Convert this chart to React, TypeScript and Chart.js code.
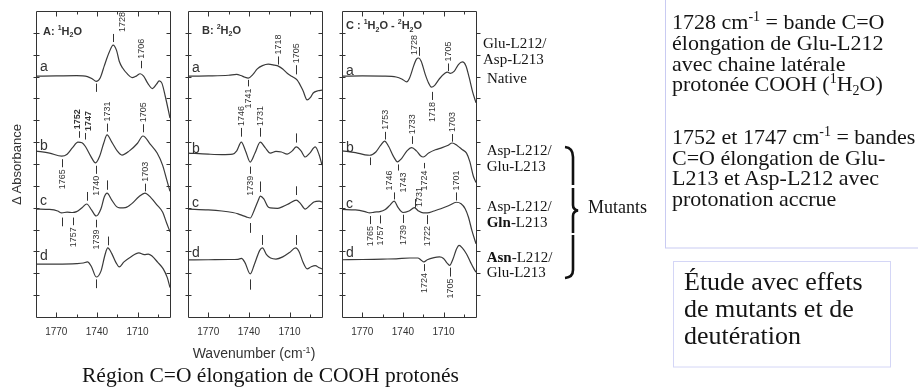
import React, { useEffect, useRef } from 'react';
import { Chart, registerables } from 'chart.js';

Chart.register(...registerables);

type Pt = [number, number];
// [wavenumber, tickStart, tickEnd, label, direction, bold, labelDx, labelShift]
type Mark = [number, number, number, string, 'up' | 'down', boolean?, number?, number?];
type Seg = { t: string; s?: 'sup' | 'sub' };

// ---------- axes ----------
const X_MIN = 1686;
const X_MAX = 1785;
const X_LABELS = [1770, 1740, 1710];
const X_MINOR = [1755, 1725, 1695];
const Y_MIN = 0;
const Y_MAX = 14;
const Y_TICKS = [1, 2, 3, 4, 5, 6, 7, 8, 9, 10, 11, 12, 13];
const TRACE_LETTERS = ['a', 'b', 'c', 'd'];

// ---------- Panel A : 1H2O ----------
const A_a: Pt[] = [[1785, 11.02], [1770, 11.03], [1755, 11.04], [1747, 11.0], [1743.5, 10.9], [1740.5, 10.78], [1737.5, 10.95], [1734.5, 11.5], [1731, 12.1], [1728, 12.44], [1725.5, 12.2], [1723.5, 11.7], [1721, 11.39], [1717.5, 11.12], [1714, 10.95], [1711, 11.02], [1708, 11.13], [1705.5, 11.02], [1702.5, 10.7], [1699, 10.45], [1696, 10.65], [1694, 10.8], [1692, 10.7], [1689.5, 10.1], [1686, 9.1]];
const A_b: Pt[] = [[1785, 7.59], [1775, 7.5], [1766, 7.36], [1762, 7.45], [1758, 7.75], [1754, 8.0], [1751, 7.97], [1748.5, 7.8], [1744.5, 7.35], [1741, 7.05], [1738, 7.35], [1735, 7.95], [1732.5, 8.33], [1729, 8.0], [1725, 7.6], [1721.5, 7.41], [1716, 7.6], [1710, 7.95], [1706, 8.28], [1700.5, 7.9], [1695.5, 7.5], [1691.5, 6.95], [1688.5, 6.3], [1686, 5.75]];
const A_c: Pt[] = [[1785, 4.94], [1775, 4.92], [1769, 4.85], [1766, 4.76], [1762, 4.8], [1758, 4.78], [1755, 4.82], [1751, 5.0], [1747.5, 5.17], [1744, 4.9], [1740.5, 4.62], [1737, 4.95], [1734.5, 5.5], [1732.5, 5.67], [1729, 5.35], [1725.5, 5.05], [1723, 4.99], [1719, 5.0], [1714, 5.2], [1709, 5.5], [1704.5, 5.67], [1700, 5.45], [1695.5, 5.12], [1691.5, 4.8], [1688.5, 4.3], [1686, 3.9]];
const A_d: Pt[] = [[1785, 2.42], [1770, 2.42], [1755, 2.44], [1750, 2.47], [1747, 2.52], [1744, 2.3], [1740.5, 1.83], [1737, 2.1], [1734, 2.85], [1732, 3.16], [1729, 2.9], [1726, 2.5], [1723.5, 2.29], [1720, 2.52], [1715, 2.75], [1709, 2.93], [1705, 2.85], [1702, 2.88], [1699.5, 2.8], [1695, 2.5], [1691, 2.2], [1688, 1.8], [1686, 1.35]];
const A_MARKS: Mark[] = [
  [1740.5, 10.68, 10.3, '', 'down'],
  [1728, 12.58, 12.95, '1728', 'up', false, 9],
  [1707.5, 11.38, 11.72, '1706', 'up'],
  [1766, 7.22, 6.85, '1765', 'down'],
  [1753, 8.2, 8.5, '1752', 'up', true, -1.5],
  [1748.5, 8.12, 8.42, '1747', 'up', true, 3],
  [1741, 6.92, 6.55, '1740', 'down'],
  [1732.5, 8.48, 8.85, '1731', 'up'],
  [1706, 8.45, 8.82, '1705', 'up'],
  [1766, 4.55, 4.15, '', 'down'],
  [1757.5, 4.55, 4.2, '1757', 'down'],
  [1747.5, 5.32, 5.72, '', 'up'],
  [1740.5, 4.45, 4.1, '1739', 'down'],
  [1732.5, 5.82, 6.25, '', 'up'],
  [1704.5, 5.75, 6.1, '1703', 'up'],
  [1740.5, 1.72, 1.32, '', 'down'],
  [1732, 3.28, 3.68, '', 'up'],
];
const A_LETTER_Y = [11.25, 7.64, 5.12, 2.61];

// ---------- Panel B : 2H2O ----------
const B_a: Pt[] = [[1785, 11.02], [1770, 11.03], [1755, 11.06], [1749, 11.1], [1746, 11.05], [1743, 10.97], [1740.5, 10.93], [1737, 11.1], [1733.8, 11.35], [1730, 11.5], [1725.7, 11.57], [1721, 11.52], [1718.3, 11.48], [1715, 11.35], [1711.7, 11.15], [1708, 11.0], [1704.3, 10.84], [1700, 10.35], [1697, 9.93], [1694.5, 10.05], [1692.5, 10.25], [1689, 10.35], [1686, 10.38]];
const B_b: Pt[] = [[1785, 7.5], [1770, 7.45], [1760, 7.43], [1752, 7.45], [1749, 7.6], [1745.6, 8.0], [1742.5, 7.6], [1739, 7.09], [1735.5, 7.5], [1731.6, 8.0], [1728, 7.75], [1724.2, 7.5], [1720, 7.58], [1716, 7.55], [1711.7, 7.45], [1708, 7.6], [1705, 7.78], [1701.5, 7.6], [1698.4, 7.32], [1695, 7.5], [1691, 7.78], [1688, 7.4], [1686, 6.95]];
const B_c: Pt[] = [[1785, 4.94], [1770, 4.9], [1760, 4.85], [1752, 4.78], [1748, 4.72], [1745, 4.65], [1742, 4.58], [1739, 4.53], [1736, 4.9], [1733, 5.35], [1731.6, 5.53], [1729, 5.4], [1726, 5.05], [1724.2, 4.99], [1719, 4.97], [1715, 5.05], [1710, 5.2], [1705, 5.35], [1702, 5.2], [1698.4, 4.94], [1695, 5.1], [1692, 5.26], [1688, 5.3], [1686, 5.26]];
const B_d: Pt[] = [[1785, 2.61], [1770, 2.62], [1755, 2.63], [1748, 2.64], [1745.5, 2.68], [1743, 2.5], [1739, 1.97], [1736, 2.4], [1732, 3.05], [1730, 3.16], [1727, 2.85], [1724, 2.7], [1720, 2.65], [1715, 2.75], [1710, 2.95], [1705.5, 3.16], [1703, 3.0], [1700, 2.5], [1697, 2.2], [1694, 2.3], [1691, 2.35], [1688, 2.25], [1686, 2.2]];
const B_MARKS: Mark[] = [
  [1740.5, 10.85, 10.55, '1741', 'down'],
  [1718.5, 11.55, 11.92, '1718', 'up'],
  [1705, 11.1, 11.52, '1705', 'up'],
  [1745.9, 8.25, 8.65, '1746', 'up'],
  [1739.2, 6.88, 6.55, '1739', 'down'],
  [1731.8, 8.25, 8.65, '1731', 'up'],
  [1705.2, 7.98, 8.4, '', 'up'],
  [1731.8, 5.72, 6.2, '', 'up'],
  [1705.2, 5.58, 5.98, '', 'up'],
  [1739.2, 4.3, 3.85, '', 'down'],
  [1739.2, 1.72, 1.25, '', 'down'],
  [1730.5, 3.3, 3.75, '', 'up'],
  [1705.5, 3.3, 3.75, '', 'up'],
];
const B_LETTER_Y = [11.21, 7.5, 5.03, 2.75];

// ---------- Panel C : 1H2O - 2H2O ----------
const C_a: Pt[] = [[1785, 11.02], [1770, 11.03], [1755, 11.02], [1745, 10.98], [1740.5, 10.88], [1737.2, 10.76], [1735, 10.95], [1732, 11.5], [1730, 11.8], [1728.3, 11.85], [1726.5, 11.7], [1723.5, 11.1], [1721, 10.7], [1719, 10.52], [1716.5, 10.6], [1713, 10.9], [1709, 11.15], [1707, 11.2], [1705, 11.15], [1702, 11.25], [1699, 11.55], [1696, 11.67], [1693.5, 11.5], [1691, 10.95], [1688.5, 10.3], [1686, 9.8]];
const C_b: Pt[] = [[1785, 7.6], [1775, 7.52], [1768, 7.42], [1764.5, 7.4], [1760, 7.55], [1756.5, 7.85], [1753.5, 8.05], [1750.5, 7.8], [1747, 7.35], [1744, 7.1], [1741, 7.25], [1737, 7.6], [1733.5, 7.75], [1730, 7.6], [1727, 7.38], [1725, 7.32], [1721, 7.5], [1716, 7.65], [1711, 7.75], [1707, 7.85], [1703.5, 7.96], [1700, 7.85], [1696, 7.65], [1693, 7.5], [1690.5, 7.1], [1688, 6.45], [1686, 6.15]];
const C_c: Pt[] = [[1785, 4.92], [1775, 4.9], [1768, 4.82], [1764.5, 4.76], [1761, 4.8], [1757, 4.82], [1753, 4.92], [1749.5, 5.12], [1746.5, 5.3], [1743.5, 5.0], [1740, 4.78], [1735.5, 4.85], [1731.5, 5.0], [1728.5, 4.85], [1725, 4.76], [1722, 4.76], [1717, 4.85], [1712, 4.95], [1706, 5.1], [1700.5, 5.25], [1697, 5.18], [1694, 4.95], [1691.5, 4.55], [1689, 3.95], [1686, 3.35]];
const C_d: Pt[] = [[1785, 2.62], [1770, 2.63], [1755, 2.65], [1745, 2.66], [1735, 2.7], [1729, 2.7], [1726.5, 2.6], [1724.5, 2.52], [1722, 2.62], [1717, 2.72], [1713, 2.75], [1710, 2.68], [1707.5, 2.48], [1705.5, 2.36], [1703, 2.65], [1700.5, 3.1], [1698.5, 3.28], [1696, 3.15], [1693, 2.88], [1690, 2.5], [1687.5, 2.2], [1686, 2.05]];
const C_MARKS: Mark[] = [
  [1728.3, 11.95, 12.35, '1728', 'up', false, -5, 10],
  [1718.5, 10.3, 9.93, '1718', 'down'],
  [1706.7, 11.25, 11.6, '1705', 'up'],
  [1764.3, 7.3, 6.95, '', 'down'],
  [1753.2, 8.12, 8.47, '1753', 'up'],
  [1743.6, 6.98, 6.7, '1743', 'down', false, 5],
  [1733.3, 7.92, 8.27, '1733', 'up'],
  [1724.5, 7.05, 6.8, '1724', 'down'],
  [1703.5, 8.02, 8.37, '1703', 'up'],
  [1764.3, 4.62, 4.25, '1765', 'down'],
  [1756.9, 4.65, 4.28, '1757', 'down'],
  [1746.5, 5.38, 5.7, '1746', 'up', false, -5],
  [1740, 4.68, 4.3, '1739', 'down'],
  [1731.1, 5.0, 5.4, '1731', 'up', false, 4, 10],
  [1722.2, 4.66, 4.25, '1722', 'down'],
  [1700.5, 5.33, 5.7, '1701', 'up'],
  [1724.5, 2.42, 2.1, '1724', 'down'],
  [1705.5, 2.26, 1.85, '1705', 'down'],
];
const C_LETTER_Y = [11.07, 7.55, 4.99, 2.75];

const A_TITLE: Seg[] = [{ t: 'A: ' }, { t: '1', s: 'sup' }, { t: 'H' }, { t: '2', s: 'sub' }, { t: 'O' }];
const B_TITLE: Seg[] = [{ t: 'B: ' }, { t: '2', s: 'sup' }, { t: 'H' }, { t: '2', s: 'sub' }, { t: 'O' }];
const C_TITLE: Seg[] = [{ t: 'C : ' }, { t: '1', s: 'sup' }, { t: 'H' }, { t: '2', s: 'sub' }, { t: 'O - ' }, { t: '2', s: 'sup' }, { t: 'H' }, { t: '2', s: 'sub' }, { t: 'O' }];

// ---------- style ----------
const SANS = '"Liberation Sans", Arial, Helvetica, sans-serif';
const SERIF = '"Liberation Serif", "Times New Roman", Times, serif';
const INK = '#333333';
const LINE = '#3a3a3a';
const PAD = 14;
const PLOT_W = 134;
const CANVAS_W = PLOT_W + 2 * PAD;
const CANVAS_H = 350;
const PLOT_TOP = 11;
const PLOT_BOTTOM = 317;
const X_AXIS_H = 30;

interface PanelDef {
  left: number;
  curves: Pt[][];
  marks: Mark[];
  letterY: number[];
  title: Seg[];
  titleDx: number;
  titleBase: number;
  rightOut: boolean;
}

function drawRich(ctx: CanvasRenderingContext2D, segs: Seg[], x0: number, y0: number, size: number) {
  let cx = x0;
  ctx.textAlign = 'left';
  ctx.textBaseline = 'alphabetic';
  for (const g of segs) {
    const fs = g.s ? Math.round(size * 0.62) : size;
    ctx.font = `bold ${fs}px ${SANS}`;
    const dy = g.s === 'sup' ? -size * 0.42 : g.s === 'sub' ? size * 0.25 : 0;
    ctx.fillText(g.t, cx, y0 + dy);
    cx += ctx.measureText(g.t).width;
  }
}

function makeDecor(def: PanelDef) {
  return {
    id: 'decor',
    afterDatasetsDraw(chart: any) {
      const { ctx, chartArea: ca, scales } = chart;
      const xs = scales.x;
      const ys = scales.y;
      const L = Math.round(ca.left) + 0.5;
      const R = Math.round(ca.right) + 0.5;
      const T = Math.round(ca.top) + 0.5;
      const B = Math.round(ca.bottom) + 0.5;
      ctx.save();
      ctx.strokeStyle = INK;
      ctx.fillStyle = INK;
      ctx.lineWidth = 1;
      ctx.beginPath();
      ctx.rect(L, T, R - L, B - T);
      ctx.stroke();
      const xt = (v: number, len: number) => {
        const px = Math.round(xs.getPixelForValue(v)) + 0.5;
        ctx.beginPath();
        ctx.moveTo(px, B); ctx.lineTo(px, B - len);
        ctx.moveTo(px, T); ctx.lineTo(px, T + len);
        ctx.stroke();
      };
      X_LABELS.forEach((v) => xt(v, 5));
      X_MINOR.forEach((v) => xt(v, 3));
      Y_TICKS.forEach((v) => {
        const py = Math.round(ys.getPixelForValue(v)) + 0.5;
        ctx.beginPath();
        ctx.moveTo(L - 3, py); ctx.lineTo(L + 3, py);
        if (def.rightOut) { ctx.moveTo(R, py); ctx.lineTo(R + 4, py); }
        else { ctx.moveTo(R - 4, py); ctx.lineTo(R, py); }
        ctx.stroke();
      });
      ctx.font = `14px ${SANS}`;
      ctx.textAlign = 'left';
      ctx.textBaseline = 'alphabetic';
      TRACE_LETTERS.forEach((t, i) => {
        ctx.fillText(t, ca.left + 4, ys.getPixelForValue(def.letterY[i]));
      });
      for (const m of def.marks) {
        const [wn, y1, y2, text, dir, bold, dx, shift] = m;
        const px = Math.round(xs.getPixelForValue(wn)) + 0.5;
        const p1 = ys.getPixelForValue(y1);
        const p2 = ys.getPixelForValue(y2);
        ctx.beginPath();
        ctx.moveTo(px, p1); ctx.lineTo(px, p2);
        ctx.stroke();
        if (text) {
          ctx.save();
          ctx.font = `${bold ? 'bold ' : ''}9px ${SANS}`;
          const end = (dir === 'up' ? Math.min(p1, p2) - 2 : Math.max(p1, p2) + 2) + (shift || 0);
          ctx.translate(px + (dx || 0), end);
          ctx.rotate(-Math.PI / 2);
          ctx.textAlign = dir === 'up' ? 'left' : 'right';
          ctx.textBaseline = 'middle';
          ctx.fillText(text, 0, 0);
          ctx.restore();
        }
      }
      drawRich(ctx, def.title, ca.left + def.titleDx, def.titleBase, 11);
      ctx.restore();
    },
  };
}

function Panel({ def }: { def: PanelDef }) {
  const ref = useRef<HTMLCanvasElement | null>(null);
  useEffect(() => {
    if (!ref.current) return;
    const chart = new Chart(ref.current, {
      type: 'line',
      data: {
        datasets: def.curves.map((c) => ({
          data: c.map(([wn, a]) => ({ x: wn, y: a })),
          borderColor: LINE,
          borderWidth: 1.2,
          pointRadius: 0,
          cubicInterpolationMode: 'monotone' as const,
          fill: false,
        })),
      },
      options: {
        animation: false,
        responsive: false,
        maintainAspectRatio: false,
        events: [],
        layout: { padding: { left: PAD, right: PAD, top: PLOT_TOP, bottom: CANVAS_H - PLOT_BOTTOM - X_AXIS_H } },
        plugins: { legend: { display: false }, tooltip: { enabled: false } },
        scales: {
          x: {
            type: 'linear',
            reverse: true,
            min: X_MIN,
            max: X_MAX,
            grid: { display: false, drawTicks: false },
            border: { display: false },
            ticks: {
              includeBounds: false,
              autoSkip: false,
              maxRotation: 0,
              padding: 9,
              color: INK,
              font: { family: SANS, size: 10 },
              callback: (v: any) => String(v),
            },
            afterBuildTicks: (s: any) => { s.ticks = X_LABELS.map((v) => ({ value: v })); },
            afterFit: (s: any) => { s.height = X_AXIS_H; },
          },
          y: { type: 'linear', display: false, min: Y_MIN, max: Y_MAX },
        },
      } as any,
      plugins: [makeDecor(def)],
    });
    return () => chart.destroy();
  }, [def]);
  return (
    <canvas
      ref={ref}
      width={CANVAS_W}
      height={CANVAS_H}
      style={{ position: 'absolute', left: def.left - PAD, top: 0, width: CANVAS_W, height: CANVAS_H }}
    />
  );
}

const PANELS: PanelDef[] = [
  { left: 36, curves: [A_a, A_b, A_c, A_d], marks: A_MARKS, letterY: A_LETTER_Y, title: A_TITLE, titleDx: 7, titleBase: 34.5, rightOut: false },
  { left: 188, curves: [B_a, B_b, B_c, B_d], marks: B_MARKS, letterY: B_LETTER_Y, title: B_TITLE, titleDx: 14, titleBase: 33.5, rightOut: false },
  { left: 342, curves: [C_a, C_b, C_c, C_d], marks: C_MARKS, letterY: C_LETTER_Y, title: C_TITLE, titleDx: 4, titleBase: 29, rightOut: true },
];

const TXT = '#141414';

export default function App() {
  return (
    <div style={{ position: 'absolute', left: 0, top: 0, width: 918, height: 389, background: '#fff', overflow: 'hidden' }}>
      {PANELS.map((p, i) => <Panel key={i} def={p} />)}
      <svg width={918} height={389} style={{ position: 'absolute', left: 0, top: 0, pointerEvents: 'none' }}>
        <text transform="translate(20.5,164.5) rotate(-90)" textAnchor="middle" fontFamily={SANS} fontSize={13} fill={INK}>Δ Absorbance</text>
        <text x={254} y={358} textAnchor="middle" fontFamily={SANS} fontSize={14} fill={INK}>
          Wavenumber (cm<tspan dy={-5} fontSize={9}>-1</tspan><tspan dy={5}>)</tspan>
        </text>
        <text x={270.5} y={382} textAnchor="middle" fontFamily={SERIF} fontSize={21.5} fill={TXT}>Région C=O élongation de COOH protonés</text>

        <g fontFamily={SERIF} fontSize={15} fill={TXT}>
          <text x={483} y={47.7}>Glu-L212/</text>
          <text x={483} y={64}>Asp-L213</text>
          <text x={487} y={83}>Native</text>
          <text x={486.7} y={155}>Asp-L212/</text>
          <text x={486.7} y={171}>Glu-L213</text>
          <text x={486.7} y={210.7}>Asp-L212/</text>
          <text x={486.7} y={226.7}><tspan fontWeight="bold">Gln</tspan>-L213</text>
          <text x={486.7} y={261.7}><tspan fontWeight="bold">Asn</tspan>-L212/</text>
          <text x={486.7} y={277.3}>Glu-L213</text>
        </g>

        <g fill="none" stroke="#111" strokeWidth={2.6}>
          <path d="M565,147 C570,147.5 573,150 573,157 L573,185" />
          <path d="M573,188 L573,205 C573,208.5 575,210 578,210.5 C575,211 573,212.5 573,216 L573,233" />
          <path d="M573,235 L573,270 C573,275 570,277.5 565,278" />
        </g>
        <text x={588} y={213} fontFamily={SERIF} fontSize={18} fill={TXT}>Mutants</text>

        <rect x={665.5} y={-2} width={260} height={250} fill="none" stroke="#c9cbf2" strokeWidth={1} />
        <g fontFamily={SERIF} fontSize={22} fill={TXT}>
          <text x={672} y={29}>1728 cm<tspan dy={-8} fontSize={14}>-1</tspan><tspan dy={8}> = bande C=O</tspan></text>
          <text x={672} y={50}>élongation de Glu-L212</text>
          <text x={672} y={70.5}>avec chaine latérale</text>
          <text x={672} y={91}>protonée COOH (<tspan dy={-8} fontSize={14}>1</tspan><tspan dy={8}>H</tspan><tspan dy={4} fontSize={14}>2</tspan><tspan dy={-4}>O)</tspan></text>
          <text x={672} y={144}>1752 et 1747 cm<tspan dy={-8} fontSize={14}>-1</tspan><tspan dy={8}> = bandes</tspan></text>
          <text x={672} y={164.5}>C=O élongation de Glu-</text>
          <text x={672} y={185}>L213 et Asp-L212 avec</text>
          <text x={672} y={205.5}>protonation accrue</text>
        </g>

        <rect x={673.5} y={261.5} width={217} height={105.5} fill="none" stroke="#d4d6f6" strokeWidth={1} />
        <g fontFamily={SERIF} fontSize={26} fill={TXT}>
          <text x={684} y={290}>Étude avec effets</text>
          <text x={684} y={317}>de mutants et de</text>
          <text x={684} y={344}>deutération</text>
        </g>
      </svg>
    </div>
  );
}
